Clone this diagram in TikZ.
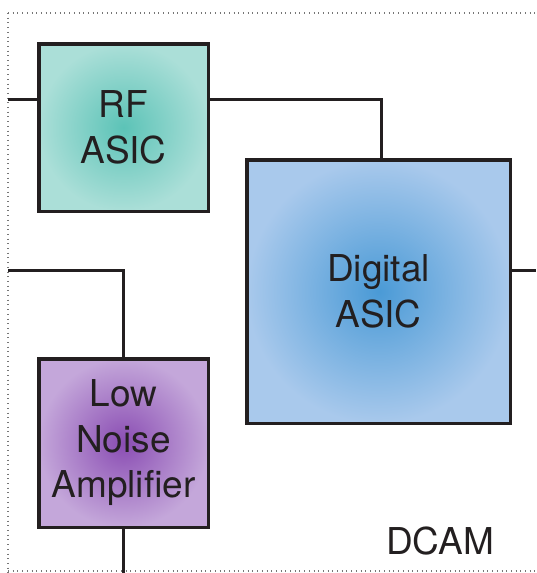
\documentclass[tikz,border=0pt]{standalone}
\usepackage{fontspec}
\setmainfont{TeX Gyre Heros}
\definecolor{edgedark}{HTML}{231F20}
\definecolor{rfin}{HTML}{5CC3B7}
\definecolor{rfout}{HTML}{ABDFD8}
\definecolor{dgin}{HTML}{4A9AD6}
\definecolor{dgout}{HTML}{A9C9EC}
\definecolor{lnain}{HTML}{8A4DB3}
\definecolor{lnaout}{HTML}{C4A7DA}
\definecolor{dotgray}{HTML}{777777}
\begin{document}
\begin{tikzpicture}[x=1pt,y=-1pt,
  blockbox/.style={draw=edgedark,line width=3.5pt,rectangle,inner sep=0pt,align=center,
    font=\fontsize{37}{45.5}\selectfont,text=edgedark},
  wire/.style={draw=edgedark,line width=3pt},
  frameline/.style={draw=dotgray,line width=1.5pt,dash pattern=on 1pt off 3.7pt}]
\useasboundingbox (0,0) rectangle (536,573);
\draw[frameline] (8,13) -- (536,13);
\draw[frameline] (8,13) -- (8,573);
\draw[frameline] (8,571) -- (536,571);

\node[blockbox,minimum width=169.5pt,minimum height=167.5pt,inner color=rfin,outer color=rfout]
  (rf) at (123.5,127.5) {RF\\ASIC};
\node[blockbox,minimum width=263.5pt,minimum height=263.5pt,inner color=dgin,outer color=dgout]
  (dig) at (378.5,291.5) {Digital\\ASIC};
\node[blockbox,minimum width=169.5pt,minimum height=168.5pt,inner color=lnain,outer color=lnaout]
  (lna) at (123.5,443) {Low\\Noise\\Amplifier};

\coordinate (inA) at (8,99);
\coordinate (inB) at (8,270);
\coordinate (outA) at (536,270);
\coordinate (outB) at (123.5,573);

\draw[wire] (inA) -- (inA -| rf.west);
\draw[wire] (inA -| rf.east) -| ([xshift=2.5pt]dig.north);
\draw[wire] (inB) -| (lna.north);
\draw[wire] (lna.south) -- (outB);
\draw[wire] (outA -| dig.east) -- (outA);

\node[font=\fontsize{37}{45.5}\selectfont,text=edgedark,inner sep=0pt,anchor=base] (dcam) at (440,554) {DCAM};
\end{tikzpicture}
\end{document}
